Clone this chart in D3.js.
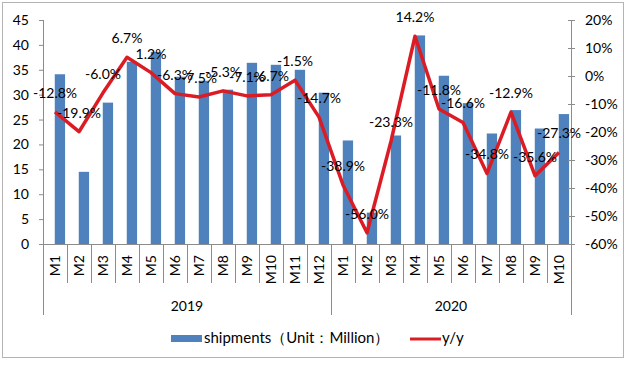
<!DOCTYPE html>
<html><head><meta charset="utf-8">
<script src="https://cdn.jsdelivr.net/npm/d3@7"></script>
<style>
html,body{margin:0;padding:0;background:#fff;}
svg{display:block;font-family:Lato,"Open Sans",sans-serif;}
</style></head>
<body><svg id="c" width="631" height="365"></svg>
<script>
const months = ["M1","M2","M3","M4","M5","M6","M7","M8","M9","M10","M11","M12","M1","M2","M3","M4","M5","M6","M7","M8","M9","M10"];
const years = ["2019","2020"];
const yearCounts = [12,10];
const shipments = [34.1,14.5,28.4,36.6,38.6,33.6,32.8,31.0,36.4,36.0,35.0,30.4,20.8,6.3,21.8,41.9,33.8,28.3,22.2,26.9,23.2,26.1];
const yoy = [-12.8,-19.9,-6.0,6.7,1.2,-6.3,-7.5,-5.3,-7.1,-6.7,-1.5,-14.7,-38.9,-56.0,-23.3,14.2,-11.8,-16.6,-34.8,-12.9,-35.6,-27.3];
const leftTicks = [0,5,10,15,20,25,30,35,40,45];
const rightTicks = [-60,-50,-40,-30,-20,-10,0,10,20];
const seriesNames = ["shipments（Unit：Million）","y/y"];

const svg = d3.select("#c");
const L = 43, R = 571, T = 20, B = 244;
const barColor = "#4f81bd", lineColor = "#dc1c24", axisColor = "#8c8c8c";

svg.append("rect").attr("x",2.5).attr("y",2.5).attr("width",621).attr("height",355)
  .attr("fill","#fff").attr("stroke","#b4b4b4");

const x = d3.scaleBand().domain(d3.range(months.length)).range([L,R]).padding(0);
const y = d3.scaleLinear().domain([0,45]).range([B,T]);
const y2 = d3.scaleLinear().domain([-60,20]).range([B,T]);
const bw = x.bandwidth();

// bars
svg.append("g").selectAll("rect").data(shipments).join("rect")
  .attr("x",(d,i)=>x(i)+bw*0.49).attr("width",bw*0.43)
  .attr("y",d=>y(d)).attr("height",d=>y(0)-y(d)).attr("fill",barColor);

// left axis
const la = svg.append("g").attr("transform",`translate(${L},0)`)
  .call(d3.axisLeft(y).tickValues(leftTicks).tickSize(4).tickPadding(10));
la.select(".domain").remove();
la.selectAll("line").attr("stroke",axisColor);
la.selectAll("text").attr("font-size",14).attr("fill","#000").attr("font-family","Lato");
svg.append("line").attr("x1",L+0.5).attr("x2",L+0.5).attr("y1",T).attr("y2",315).attr("stroke",axisColor);

// right axis
const ra = svg.append("g").attr("transform",`translate(${R},0)`)
  .call(d3.axisRight(y2).tickValues(rightTicks).tickSize(4).tickPadding(10).tickFormat(d=>d+"%"));
ra.select(".domain").remove();
ra.selectAll("line").attr("stroke",axisColor).attr("x1",-3);
ra.selectAll("text").attr("font-size",14).attr("fill","#000").attr("font-family","Lato");
svg.append("line").attr("x1",R+0.5).attr("x2",R+0.5).attr("y1",T).attr("y2",B).attr("stroke",axisColor);

// category axis
svg.append("line").attr("x1",L).attr("x2",R).attr("y1",B+0.5).attr("y2",B+0.5).attr("stroke",axisColor);
svg.append("g").selectAll("line").data(d3.range(1,months.length+1)).join("line")
  .attr("x1",i=>Math.round(x(i-1)+bw)+0.5).attr("x2",i=>Math.round(x(i-1)+bw)+0.5)
  .attr("y1",B).attr("y2",283).attr("stroke",axisColor);
svg.append("g").selectAll("text").data(months).join("text")
  .attr("transform",(d,i)=>`translate(${x(i)+bw/2+5},255) rotate(-90)`)
  .attr("text-anchor","end").attr("font-size",14).attr("fill","#000").text(d=>d);
let start = 0;
years.forEach((yr,k)=>{
  const end = start + yearCounts[k];
  const x0 = x(start), x1 = x(end-1)+bw;
  svg.append("line").attr("x1",Math.round(x1)+0.5).attr("x2",Math.round(x1)+0.5)
    .attr("y1",B).attr("y2",315).attr("stroke",axisColor);
  svg.append("text").attr("x",(x0+x1)/2).attr("y",311).attr("text-anchor","middle")
    .attr("font-size",14).attr("fill","#000").text(yr);
  start = end;
});

// line
const line = d3.line().x((d,i)=>x(i)+bw/2).y(d=>y2(d));
svg.append("path").datum(yoy).attr("d",line).attr("fill","none")
  .attr("stroke",lineColor).attr("stroke-width",3.5).attr("stroke-linejoin","round");

// labels
svg.append("g").selectAll("text").data(yoy).join("text")
  .attr("x",(d,i)=>x(i)+bw/2).attr("y",d=>y2(d)-14)
  .attr("text-anchor","middle").attr("font-size",14).attr("fill","#000")
  .text(d=>d.toFixed(1)+"%");

// legend
svg.append("rect").attr("x",171).attr("y",335).attr("width",31).attr("height",7).attr("fill",barColor);
svg.append("text").attr("x",204).attr("y",343).attr("font-size",15).attr("fill","#000").text(seriesNames[0]);
svg.append("line").attr("x1",410).attr("x2",441).attr("y1",339).attr("y2",339).attr("stroke",lineColor).attr("stroke-width",3);
svg.append("text").attr("x",442).attr("y",343).attr("font-size",15).attr("fill","#000").text(seriesNames[1]);
</script></body></html>
